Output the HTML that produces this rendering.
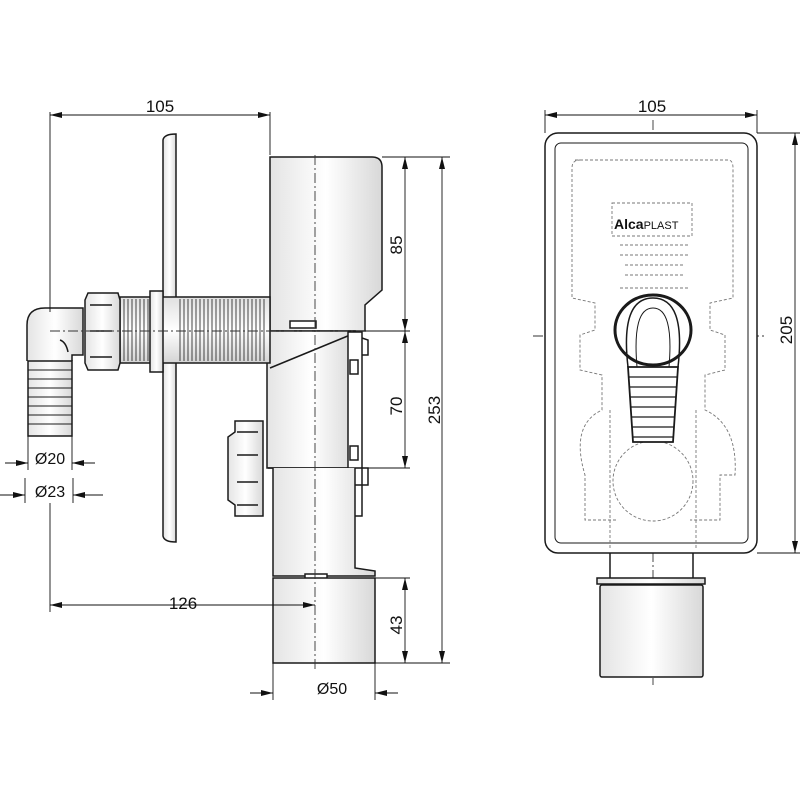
<!DOCTYPE html>
<html><head><meta charset="utf-8"><style>
html,body{margin:0;padding:0;background:#fff;}
svg{display:block}
text{font-family:"Liberation Sans",sans-serif;fill:#111}
</style></head><body>
<svg width="800" height="800" viewBox="0 0 800 800" xmlns="http://www.w3.org/2000/svg">
<defs>
<linearGradient id="g" x1="0" x2="1" y1="0" y2="0"><stop offset="0" stop-color="#e4e4e4"/><stop offset="0.5" stop-color="#fff"/><stop offset="1" stop-color="#d8d8d8"/></linearGradient>
<linearGradient id="gv" x1="0" x2="0" y1="0" y2="1"><stop offset="0" stop-color="#e0e0e0"/><stop offset="0.5" stop-color="#fff"/><stop offset="1" stop-color="#d4d4d4"/></linearGradient>
<marker id="a" markerWidth="12" markerHeight="6" refX="12" refY="3" orient="auto-start-reverse" markerUnits="userSpaceOnUse"><path d="M0,0 L12,3 L0,6 z" fill="#111"/></marker>
</defs>
<g stroke="#1a1a1a" stroke-width="1.5" fill="none">
<!-- LEFT VIEW -->
<!-- plate -->
<path d="M163,140 Q164,134 176,134 L176,542 Q164,542 163,536 Z" fill="url(#g)"/>
<!-- top box -->
<path d="M270,157 L372,157 Q382,157 382,167 L382,290 L365,305 L365,331 L270,331 Z" fill="url(#g)"/>
<rect x="290" y="321" width="26" height="7" fill="#fff"/>
<!-- body -->
<path d="M267,331 L355,331 L355,468 L267,468 Z" fill="url(#g)"/>
<path d="M270,368 L355,333"/>
<path d="M348,332 L362,332 L362,516 L348,516 Z" fill="#fff"/>
<path d="M362,338 L368,340 L368,355 L362,355"/>
<rect x="350" y="360" width="8" height="14" fill="#fff"/>
<rect x="350" y="446" width="8" height="14" fill="#fff"/>
<path d="M268,468 L368,468 L368,485 L355,485"/>
<!-- tube under body -->
<path d="M273,468 L273,576 L375,576 L375,571 L355,568 L355,468" fill="url(#g)"/>
<rect x="305" y="574" width="22" height="5" fill="#fff"/>
<!-- cup -->
<path d="M273,578 L375,578 L375,663 L273,663 Z" fill="url(#g)"/>
<!-- side nut -->
<path d="M235,421 L263,421 L263,516 L235,516 L235,505 L228,500 L228,437 L235,432 Z" fill="url(#g)"/>
<path d="M237,432 L258,432 M237,455 L258,455 M237,482 L258,482 M237,505 L258,505"/>
<!-- thread pipe -->
<rect x="120" y="297" width="150" height="66" fill="url(#gv)"/>
<g stroke-width="0.8">
<path d="M124,299 V361 M128,299 V361 M132,299 V361 M136,299 V361 M140,299 V361 M144,299 V361 M148,299 V361 M180,299 V361 M184,299 V361 M188,299 V361 M192,299 V361 M196,299 V361 M200,299 V361 M204,299 V361 M208,299 V361 M212,299 V361 M216,299 V361 M220,299 V361 M224,299 V361 M228,299 V361 M232,299 V361 M236,299 V361 M240,299 V361 M244,299 V361 M248,299 V361 M252,299 V361 M256,299 V361 M260,299 V361 M264,299 V361"/>
</g>
<rect x="150" y="291" width="13" height="81" fill="url(#g)"/>
<!-- nut -->
<path d="M88,293 L118,293 L120,300 L120,363 L118,370 L88,370 L85,363 L85,300 Z" fill="url(#g)"/>
<path d="M90,305 L112,305 M90,331 L112,331 M90,357 L112,357"/>
<!-- elbow -->
<path d="M27,361 L27,325 Q27,308 45,308 L83,308 L83,355 L72,355 L72,361" fill="url(#g)"/>
<path d="M60,340 Q66,342 68,352"/>
<!-- barb -->
<path d="M28,361 L72,361 L72,436 L28,436 Z" fill="url(#g)"/>
<path d="M28,370 H72 M28,379 H72 M28,388 H72 M28,397 H72 M28,406 H72 M28,415 H72 M28,424 H72" stroke-width="1"/>
</g>
<!-- center lines -->
<g stroke="#333" stroke-width="0.9" fill="none" stroke-dasharray="10,3,2,3">
<path d="M50,331 H410"/>
<path d="M315,155 V670"/>
<path d="M653,120 V685"/>
<path d="M533,336 H765"/>
</g>
<!-- dims left -->
<g stroke="#111" stroke-width="0.9" fill="none">
<path d="M50,112 V312 M50,503 V612 M270,112 V155"/>
<path d="M50,115 H270" marker-start="url(#a)" marker-end="url(#a)"/>
<path d="M50,605 H315" marker-start="url(#a)" marker-end="url(#a)"/>
<path d="M382,157 H450 M365,331 H410 M355,468 H410 M375,578 H410 M375,663 H450"/>
<path d="M405,157 V331" marker-start="url(#a)" marker-end="url(#a)"/>
<path d="M405,331 V468" marker-start="url(#a)" marker-end="url(#a)"/>
<path d="M405,578 V663" marker-start="url(#a)" marker-end="url(#a)"/>
<path d="M442,157 V663" marker-start="url(#a)" marker-end="url(#a)"/>
<path d="M28,436 V470 M72,436 V470 M25,478 V503 M73,478 V503 M273,663 V700 M375,663 V700"/>
<path d="M5,463 H28" marker-end="url(#a)"/><path d="M95,463 H72" marker-end="url(#a)"/>
<path d="M0,495 H25" marker-end="url(#a)"/><path d="M103,495 H73" marker-end="url(#a)"/>
<path d="M250,693 H273" marker-end="url(#a)"/><path d="M398,693 H375" marker-end="url(#a)"/>
</g>
<text x="160" y="112" font-size="17" text-anchor="middle">105</text>
<text x="183" y="609" font-size="17" text-anchor="middle">126</text>
<text x="50" y="464" font-size="16" text-anchor="middle">Ø20</text>
<text x="50" y="497" font-size="16" text-anchor="middle">Ø23</text>
<text x="332" y="694" font-size="16" text-anchor="middle">Ø50</text>
<text font-size="17" text-anchor="middle" transform="translate(402,245) rotate(-90)">85</text>
<text font-size="17" text-anchor="middle" transform="translate(402,406) rotate(-90)">70</text>
<text font-size="17" text-anchor="middle" transform="translate(402,625) rotate(-90)">43</text>
<text font-size="17" text-anchor="middle" transform="translate(440,410) rotate(-90)">253</text>

<!-- RIGHT VIEW -->
<g stroke="#1a1a1a" stroke-width="1.5" fill="none">
<rect x="545" y="133" width="212" height="420" rx="13" fill="#fff"/>
<rect x="555" y="143" width="193" height="400" rx="6" stroke-width="1"/>
<path d="M610,553 L610,582 M693,553 L693,582"/>
<path d="M597,578 L705,578 L705,584 L597,584 Z" fill="url(#g)"/>
<rect x="600" y="585" width="103" height="92" rx="2" fill="url(#g)"/>
</g>
<g stroke="#777" stroke-width="0.9" fill="none" stroke-dasharray="3,2">
<path d="M575,160 L728,160 Q733,160 733,168 L733,298 L710,303 L710,330 L725,335 L725,370 L705,375 L705,410 Q738,425 735,475 L720,475 L720,520 L690,520 M616,520 L585,520 L585,475 Q570,425 602,410 L602,375 L580,370 L580,335 L595,330 L595,303 L572,298 L572,168 Q572,160 580,160"/>
<rect x="612" y="203" width="80" height="33"/>
<path d="M620,245 H690 M620,255 H690 M625,265 H685 M625,275 H685 M620,288 H690"/>
<circle cx="653" cy="481" r="40"/>
<path d="M610,410 V550 M696,410 V550"/>
</g>
<text x="614" y="229" font-size="14" font-weight="bold" fill="#222">Alca<tspan font-size="11" font-weight="normal">PLAST</tspan></text>
<g stroke="#1a1a1a" stroke-width="1.5">
<ellipse cx="653" cy="330" rx="38" ry="35" fill="#fff" stroke-width="3"/>
<path d="M628,367 Q620,298 653,298 Q686,298 678,367" fill="none"/>
<path d="M637,367 Q632,308 653,308 Q674,308 669,367" fill="none" stroke-width="1"/>
<path d="M628,367 L678,367 L673,442 L633,442 Z" fill="#fff" stroke-width="1.8"/>
<path d="M629,377 H677 M630,387 H676 M630,397 H676 M631,407 H675 M631,417 H675 M632,427 H674 M632,437 H674" stroke-width="1.2"/>
</g>
<g stroke="#111" stroke-width="0.9" fill="none">
<path d="M545,110 V133 M757,110 V133 M757,133 H800 M757,553 H800"/>
<path d="M545,115 H757" marker-start="url(#a)" marker-end="url(#a)"/>
<path d="M795,133 V553" marker-start="url(#a)" marker-end="url(#a)"/>
</g>
<text x="652" y="112" font-size="17" text-anchor="middle">105</text>
<text font-size="17" text-anchor="middle" transform="translate(792,330) rotate(-90)">205</text>
</svg>
</body></html>
